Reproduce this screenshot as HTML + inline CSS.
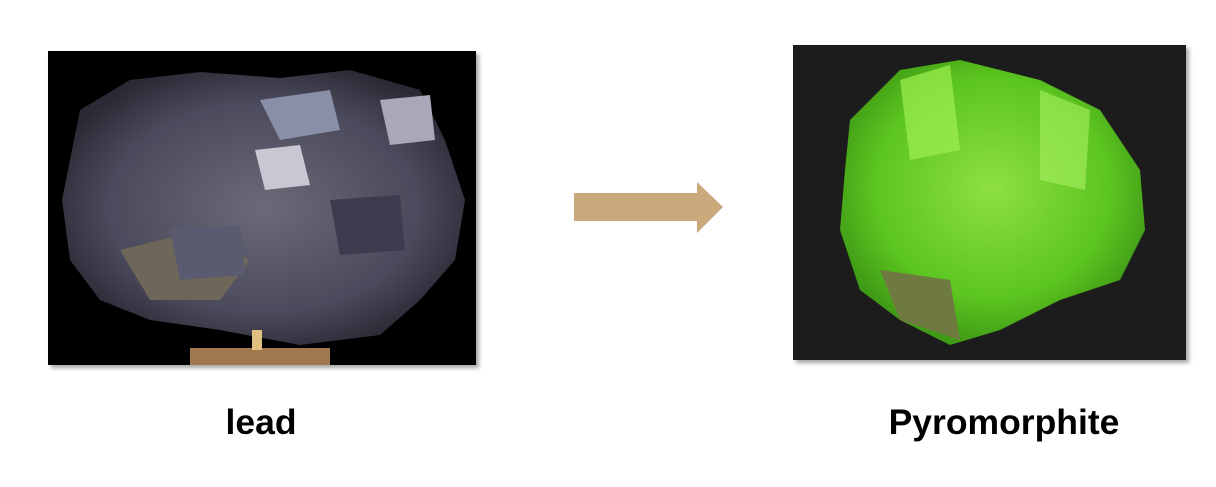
<!DOCTYPE html>
<html><head><meta charset="utf-8"><style>
html,body{margin:0;padding:0;background:#fff;width:1216px;height:487px;overflow:hidden}
.lbl{position:absolute;font-family:"Liberation Sans",sans-serif;font-weight:bold;font-size:35.5px;color:#000;transform:translateX(-50%);white-space:nowrap}
</style></head><body>
<svg width="1216" height="487" style="position:absolute;left:0;top:0">
<defs>
<filter id="sh" x="-5%" y="-5%" width="115%" height="115%"><feDropShadow dx="3" dy="3" stdDeviation="2" flood-color="#000" flood-opacity="0.35"/></filter>
<radialGradient id="gl" cx="50%" cy="50%" r="55%"><stop offset="0" stop-color="#6a6a78"/><stop offset="0.7" stop-color="#4a4a5c"/><stop offset="1" stop-color="#2a2a35"/></radialGradient>
<radialGradient id="gg" cx="50%" cy="45%" r="55%"><stop offset="0" stop-color="#8ee040"/><stop offset="0.7" stop-color="#5cc520"/><stop offset="1" stop-color="#3f9a15"/></radialGradient>
</defs>
<g>
<rect x="48" y="51" width="428" height="314" fill="#050505" filter="url(#sh)"/>
<path d="M80 110 L130 80 L200 72 L280 78 L350 70 L420 90 L445 140 L465 200 L455 260 L420 300 L380 335 L300 345 L220 330 L150 320 L100 300 L70 260 L62 200 L72 150 Z" fill="url(#gl)"/>
<path d="M120 250 L200 230 L250 260 L220 300 L150 300 Z" fill="#6e6658"/>
<path d="M260 100 L330 90 L340 130 L280 140 Z" fill="#8a8fa8"/>
<path d="M255 150 L300 145 L310 185 L265 190 Z" fill="#c8c8d2"/>
<path d="M380 100 L430 95 L435 140 L390 145 Z" fill="#a8a8b8"/>
<path d="M170 230 L240 225 L245 275 L180 280 Z" fill="#5a5a70"/>
<path d="M330 200 L400 195 L405 250 L340 255 Z" fill="#3c3c4e"/>
<rect x="190" y="348" width="140" height="17" fill="#a07850"/>
<rect x="252" y="330" width="10" height="20" fill="#e0c080"/>
</g>
<g>
<rect x="793" y="45" width="393" height="315" fill="#1c1c1c" filter="url(#sh)"/>
<path d="M850 120 L900 70 L960 60 L1040 80 L1100 110 L1140 170 L1145 230 L1120 280 L1060 300 L1000 330 L950 345 L900 320 L860 290 L840 230 L845 170 Z" fill="url(#gg)"/>
<path d="M900 80 L950 65 L960 150 L910 160 Z" fill="#9ef050" opacity="0.7"/>
<path d="M1040 90 L1090 110 L1085 190 L1040 180 Z" fill="#a8f060" opacity="0.6"/>
<path d="M880 270 L950 280 L960 340 L900 320 Z" fill="#6e7a40"/>
</g>
<g>
<polygon points="574,193 697,193 697,182 723,207 697,233 697,221 574,221" fill="#c9a97c"/>
</g>
</svg>
<div class="lbl" style="left:261px;top:402px">lead</div>
<div class="lbl" style="left:1004px;top:402px">Pyromorphite</div>
</body></html>
